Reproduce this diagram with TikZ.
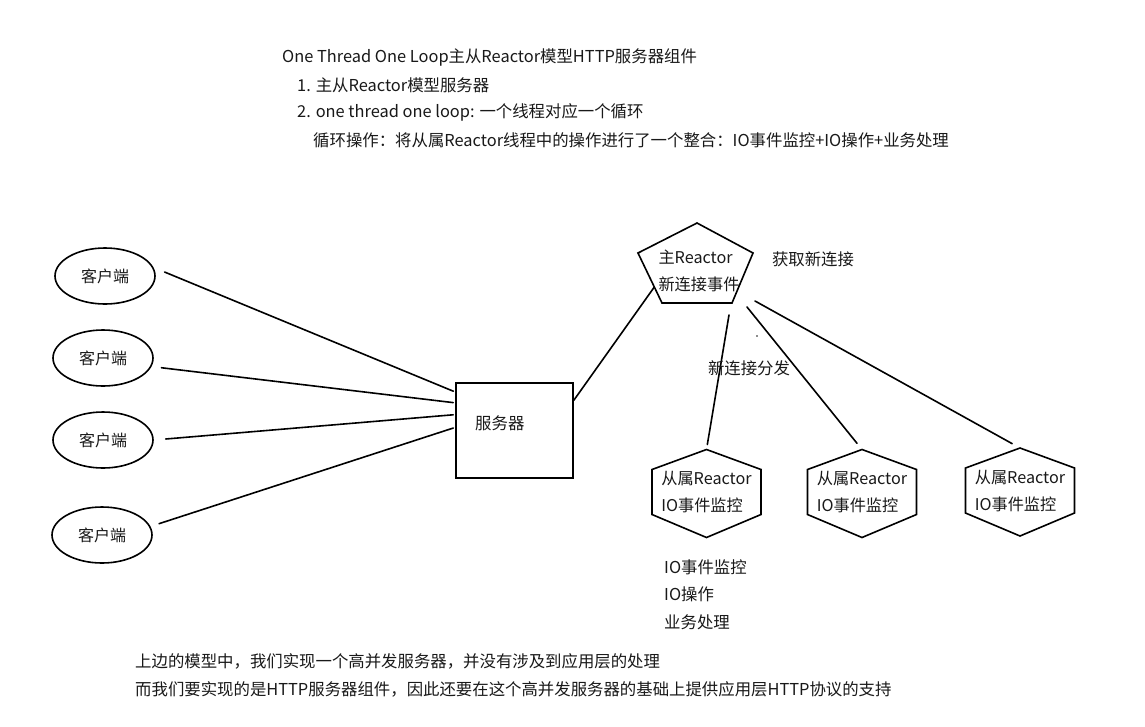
\documentclass[tikz,border=0pt]{standalone}
\usepackage{fontspec}
\setmainfont{Noto Sans CJK SC}
\usetikzlibrary{shapes.geometric,calc}
\definecolor{ink}{RGB}{25,25,25}
\begin{document}
\begin{tikzpicture}[x=1pt,y=-1pt,
  font=\fontsize{16.4}{19}\selectfont,
  txt/.style={inner sep=0pt, text=ink},
  conn/.style={line width=1.6pt, line cap=round},
  shp/.style={line width=1.6pt, line join=miter},
  client/.style={ellipse, draw, line width=1.6pt, minimum width=100pt, minimum height=56pt, inner sep=0pt, text=ink, font=\fontsize{16}{19}\selectfont},
  multi/.style={txt, align=left, font=\fontsize{16.2}{27}\selectfont}]
\useasboundingbox (0,0) rectangle (1145,726);
\fill[white] (0,0) rectangle (1145,726);

% header
\node[txt, anchor=west] (h0) at (282,57) {One Thread One Loop主从Reactor模型HTTP服务器组件};
\node[txt, anchor=west] (h1) at (297,85) {1. 主从Reactor模型服务器};
\node[txt, anchor=west] (h2) at (297,112) {2. one thread one loop: 一个线程对应一个循环};
\node[txt, anchor=west] (h3) at (313,140) {循环操作：将从属Reactor线程中的操作进行了一个整合：IO事件监控+IO操作+业务处理};

% clients
\node[client] (c1) at (105,276) {客户端};
\node[client] (c2) at (103,358) {客户端};
\node[client] (c3) at (103,440) {客户端};
\node[client] (c4) at (102,535) {客户端};

% server
\node[draw, shp, minimum width=117pt, minimum height=95pt, inner sep=0pt] (srv) at (514.5,430.5) {};
\node[txt, anchor=west] (srvt) at (475,423) {服务器};

\draw[conn, shorten <=12pt, shorten >=2pt] (c1.10) -- (srv.147);
\draw[conn, shorten <=10pt, shorten >=2pt] (c2.-10) -- (srv.155);
\draw[conn, shorten <=12pt, shorten >=2pt] (c3.east) -- (srv.165);
\draw[conn, shorten <=9pt, shorten >=2pt] (c4.10) -- (srv.177);

% main reactor (pentagon)
\node[multi] (m) at (699,271) {主Reactor\\新连接事件};
\coordinate (pt) at ($(m.center)+(-2,-48)$);
\coordinate (pr) at ($(m.center)+(54,-18)$);
\coordinate (pbr) at ($(m.center)+(33,32)$);
\coordinate (pbl) at ($(m.center)+(-37,32)$);
\coordinate (pl) at ($(m.center)+(-61,-18)$);
\draw[shp] (pt) -- (pr) -- (pbr) -- (pbl) -- (pl) -- cycle;
\coordinate (pin) at ($(pl)!0.68!(pbl)$);
\draw[conn] (srv.27) -- (pin);

\node[txt] (get) at (813,259) {获取新连接};

% sub reactors (hexagons)
\node[multi] (s1) at (706.5,492.5) {从属Reactor\\IO事件监控};
\node[multi] (s2) at (862,492.5) {从属Reactor\\IO事件监控};
\node[multi] (s3) at (1020,491) {从属Reactor\\IO事件监控};
\foreach \s in {s1,s2,s3}{
  \draw[shp] ($(\s.center)+(0,-43)$) -- ($(\s.center)+(54.5,-23)$) -- ($(\s.center)+(54.5,22)$)
    -- ($(\s.center)+(0,45)$) -- ($(\s.center)+(-54.5,22)$) -- ($(\s.center)+(-54.5,-23)$) -- cycle;
  \coordinate (\s top) at ($(\s.center)+(0,-43)$);
}

\coordinate (d1) at (729,315);
\coordinate (d2) at (747,307);
\coordinate (d3) at (755,301);
\draw[conn, shorten >=5pt] (d1) -- (s1top);
\draw[conn, shorten >=8pt] (d2) -- (s2top);
\draw[conn, shorten >=9pt] (d3) -- (s3top);
\fill[ink] (757,336) circle (0.9);

\node[txt] (dist) at (749,368) {新连接分发};

% loop operations
\node[txt, anchor=west] (o1) at (664,567) {IO事件监控};
\node[txt, anchor=west] (o2) at (664,594) {IO操作};
\node[txt, anchor=west] (o3) at (664,622) {业务处理};

% footer
\node[txt, anchor=west] (f1) at (135,661) {上边的模型中，我们实现一个高并发服务器，并没有涉及到应用层的处理};
\node[txt, anchor=west] (f2) at (135,689) {而我们要实现的是HTTP服务器组件，因此还要在这个高并发服务器的基础上提供应用层HTTP协议的支持};
\end{tikzpicture}
\end{document}
